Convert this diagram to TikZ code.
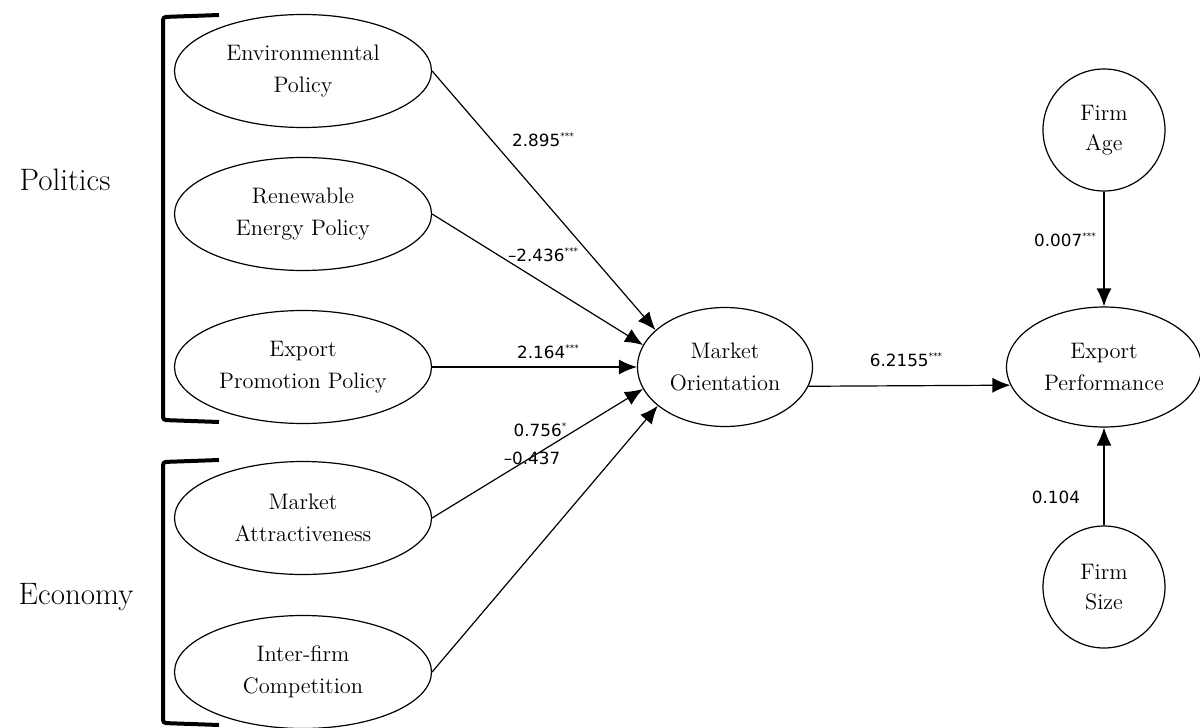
\documentclass[tikz,border=0pt]{standalone}
\usepackage{fontspec}
\newfontfamily\numfont{DejaVu Sans}
\usetikzlibrary{shapes.geometric,arrows.meta}
\tikzset{
	construct/.style={draw, ellipse, line width=0.6pt, inner sep=0pt, minimum width=128.5pt, minimum height=56.5pt, align=center, font=\fontsize{11.2}{16}\selectfont},
	control/.style={draw, circle, line width=0.6pt, inner sep=0pt, minimum size=61pt, align=center, font=\fontsize{11.2}{15}\selectfont},
	effect/.style={-{Latex[length=9pt,width=7.5pt]}, line width=0.6pt},
	coef/.style={font=\numfont\fontsize{8.4}{10}\selectfont, inner sep=1pt},
	bracket/.style={line width=2pt, rounded corners=1.5pt},
	group/.style={font=\fontsize{15.5}{18}\selectfont}
}
\newcommand{\sig}[1]{\raisebox{0.75ex}{\fontsize{4.5}{5}\selectfont #1}}
\begin{document}
\begin{tikzpicture}[x=0.5pt, y=-0.5pt]
			\useasboundingbox (0,0) rectangle (1200,728);
			% groups
			\draw[bracket] (219,15) -- (163,17) -- (163,420) -- (219,422);
			\draw[bracket] (219,460) -- (163,462) -- (163,723) -- (219,725);
			\node[group] (pol) at (65,180) {Politics};
			\node[group] (eco) at (76,597) {Economy};
			% constructs
			\node[construct] (env) at (303,71) {Environmenntal\\Policy};
			\node[construct] (ren) at (303,214) {Renewable\\Energy Policy};
			\node[construct] (exp) at (303,367) {Export\\Promotion Policy};
			\node[construct] (att) at (303,518) {Market\\Attractiveness};
			\node[construct] (comp) at (303,672) {Inter-firm\\Competition};
			\node[construct, minimum width=87.5pt, minimum height=59.5pt] (mo) at (725,367) {Market\\Orientation};
			\node[construct, minimum width=97.5pt, minimum height=60pt] (ep) at (1104,367) {Export\\Performance};
			\node[control] (age) at (1104,130) {Firm\\Age};
			\node[control] (size) at (1104,587) {Firm\\Size};
			% paths
			\draw[effect] (env.east) -- (mo.152);
			\draw[effect] (ren.east) -- (mo.165);
			\draw[effect] (exp.east) -- (mo.west);
			\draw[effect] (att.east) -- (mo.195);
			\draw[effect] (comp.east) -- (mo.210);
			\draw[effect] (mo.-13) -- (ep.191.5);
			\draw[effect] (age) -- (ep);
			\draw[effect] (size) -- (ep);
			% coefficients
			\node[coef] (c1) at (543,140) {2.895\sig{***}};
			\node[coef] (c2) at (543,255) {\textendash2.436\sig{***}};
			\node[coef] (c3) at (548,352) {2.164\sig{***}};
			\node[coef] (c4) at (540,430) {0.756\sig{*}};
			\node[coef] (c5) at (532,458) {\textendash0.437};
			\node[coef] (c6) at (906,360) {6.2155\sig{***}};
			\node[coef] (c7) at (1065,240) {0.007\sig{***}};
			\node[coef] (c8) at (1056,497) {0.104};
		\end{tikzpicture}
\end{document}
